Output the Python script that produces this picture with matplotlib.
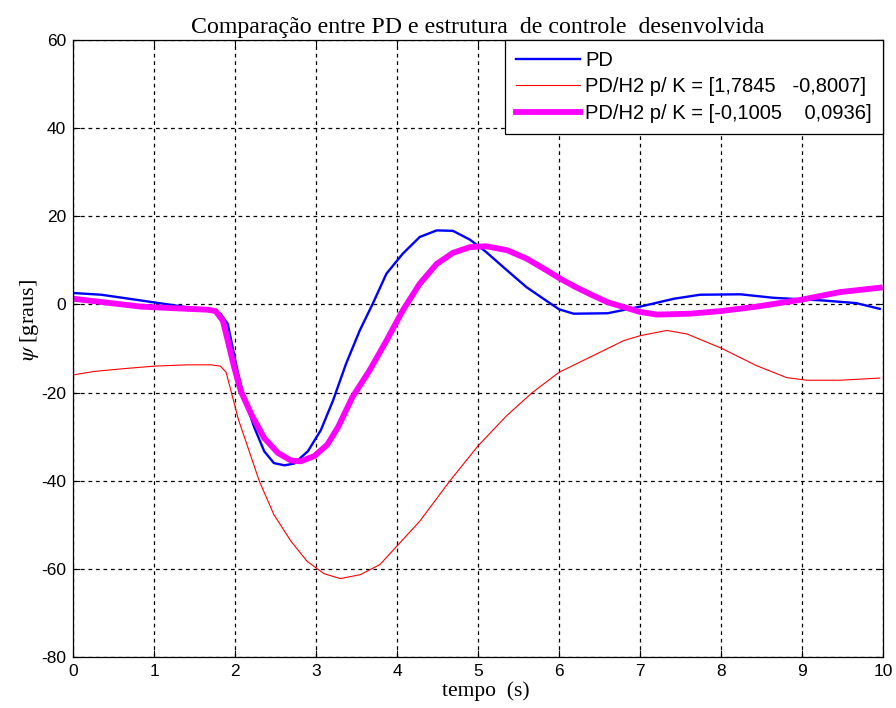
import numpy as np
import matplotlib.pyplot as plt

plt.rcParams['axes.unicode_minus'] = False
plt.rcParams['mathtext.fontset'] = 'stix'

# PD response
tPD = [0, 0.35, 0.8, 1.25, 1.5, 1.7, 1.82, 1.91, 1.97, 2.03, 2.11, 2.24,
       2.36, 2.48, 2.61, 2.73, 2.9, 3.06, 3.21, 3.37, 3.54, 3.7, 3.87, 4.07,
       4.28, 4.49, 4.69, 4.9, 5.1, 5.36, 5.6, 5.85, 6.0, 6.18, 6.6, 7.0,
       7.42, 7.74, 8.24, 8.65, 9.26, 9.67, 9.96]
yPD = [2.6, 2.2, 1.0, -0.2, -0.9, -1.5, -2.1, -4.4, -9.7, -15.0, -21.1, -28.0,
       -33.3, -36.0, -36.5, -36.1, -33.3, -28.5, -21.8, -13.5, -5.9, 0.15, 7.0,
       11.5, 15.3, 16.8, 16.7, 14.7, 11.9, 7.7, 3.9, 0.76, -1.1, -2.1, -2.0,
       -0.5, 1.3, 2.2, 2.3, 1.5, 0.9, 0.3, -1.0]

# PD/H2 with K = [1,7845 -0,8007]
tK1 = [0, 0.26, 0.67, 1.0, 1.41, 1.7, 1.82, 1.89, 1.95, 2.04, 2.16, 2.3,
       2.48, 2.69, 2.89, 3.1, 3.3, 3.55, 3.79, 4.0, 4.28, 4.65, 5.0, 5.35,
       5.67, 6.0, 6.39, 6.8, 7.0, 7.33, 7.58, 8.0, 8.44, 8.81, 9.06, 9.47,
       9.96]
yK1 = [-16.0, -15.2, -14.5, -14.0, -13.7, -13.7, -14.0, -15.4, -19.6, -26.0,
       -32.5, -40.1, -47.7, -53.7, -58.3, -61.1, -62.2, -61.3, -59.0, -54.8,
       -49.2, -40.1, -32.1, -25.3, -20.0, -15.4, -11.9, -8.2, -7.1, -5.9,
       -6.7, -9.9, -13.9, -16.6, -17.2, -17.2, -16.7]

# PD/H2 with K = [-0,1005 0,0936]
tK2 = [0, 0.84, 1.3, 1.66, 1.76, 1.85, 1.91, 1.99, 2.07, 2.2, 2.36, 2.53,
       2.69, 2.81, 2.98, 3.14, 3.27, 3.45, 3.66, 3.87, 4.07, 4.28, 4.49,
       4.69, 4.9, 5.1, 5.36, 5.6, 5.85, 6.02, 6.2, 6.4, 6.6, 7.0, 7.21, 7.62,
       8.0, 8.44, 9.0, 9.47, 9.96]
yK2 = [1.3, -0.5, -0.9, -1.2, -1.5, -3.7, -8.2, -14.3, -19.6, -24.9, -30.3,
       -33.7, -35.4, -35.6, -34.4, -31.8, -27.9, -21.0, -15.0, -8.2, -1.4, 4.7,
       9.2, 11.7, 13.0, 13.2, 12.3, 10.4, 7.7, 5.8, 4.0, 2.2, 0.5, -1.7, -2.3,
       -2.1, -1.5, -0.5, 1.1, 2.8, 3.8]

labels = ["PD",
          "PD/H2 p/ K = [1,7845   -0,8007]",
          "PD/H2 p/ K = [-0,1005    0,0936]"]

fig = plt.figure(figsize=(8.96, 7.08), dpi=100)
ax = fig.add_axes([0.0815, 0.072, 0.904, 0.8715])

ax.plot(tPD, yPD, color='#0000ff', lw=1.7, label=labels[0])
ax.plot(tK1, yK1, color='#ff0000', lw=0.8, label=labels[1])
ax.plot(tK2, yK2, color='#ff00ff', lw=4.2, label=labels[2])

ax.set_xlim(0, 10)
ax.set_ylim(-80, 60)
ax.set_xticks(np.arange(0, 11, 1))
ax.set_yticks(np.arange(-80, 61, 20))
ax.grid(True, color='black', linestyle=(0, (3, 3)), linewidth=0.9)
ax.tick_params(direction='in', length=5, top=True, right=True,
               labeltop=False, labelright=False, labelsize=12.5, pad=5)
for lab in ax.get_xticklabels() + ax.get_yticklabels():
    lab.set_fontfamily('Liberation Sans')
for s in ax.spines.values():
    s.set_linewidth(0.9)

ax.set_title("Comparação entre PD e estrutura  de controle  desenvolvida",
             family='Liberation Serif', fontsize=17.2, pad=5)
ax.set_xlabel("tempo  (s)", family='Liberation Serif', fontsize=15.5)
ax.xaxis.set_label_coords(0.51, -0.039)
ax.xaxis.label.set_va('top')
ax.set_ylabel(r"$\psi$ [graus]", family='Liberation Serif', fontsize=16)
ax.yaxis.set_label_coords(-0.04, 0.546)

leg = ax.legend(loc='upper right', prop={'family': 'Liberation Sans',
                                         'size': 14.5},
                fancybox=False, framealpha=1, edgecolor='black',
                borderaxespad=0.0, handlelength=3.2, labelspacing=0.36,
                handletextpad=0.25, borderpad=0.55)
leg.get_frame().set_linewidth(0.9)

fig.savefig("out.png", dpi=100)
